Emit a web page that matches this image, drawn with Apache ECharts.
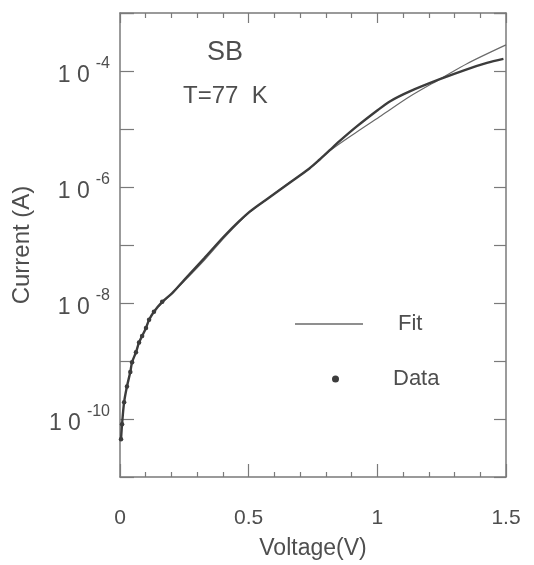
<!DOCTYPE html>
<html>
<head>
<meta charset="utf-8">
<script src="https://cdn.jsdelivr.net/npm/echarts@6/dist/echarts.min.js"></script>
<style>
  html, body { margin: 0; padding: 0; background: #fff; }
  #chart { width: 534px; height: 565px; }
</style>
</head>
<body>
<div id="chart"></div>
<script>
// measured points, voltage in V, current as log10(A)
var dataVolts = [0.004, 0.008, 0.016, 0.027, 0.040, 0.047, 0.062, 0.074, 0.086, 0.101,
  0.113, 0.132, 0.164, 0.203, 0.25, 0.327, 0.413, 0.503, 0.58, 0.658,
  0.736, 0.775, 0.814, 0.853, 0.919, 0.997, 1.05, 1.126, 1.243, 1.348, 1.426, 1.49];
var dataLogI = [-10.35, -10.09, -9.71, -9.44, -9.19, -9.02, -8.85, -8.68, -8.57, -8.43,
  -8.29, -8.15, -7.98, -7.83, -7.60, -7.23, -6.81, -6.43, -6.18, -5.93,
  -5.68, -5.53, -5.37, -5.21, -4.96, -4.69, -4.52, -4.35, -4.14, -3.97, -3.86, -3.79];

// fit curve
var fitVolts = [0.15, 0.25, 0.33, 0.41, 0.50, 0.58, 0.66, 0.74, 0.82, 0.92, 1.015, 1.126, 1.243, 1.35, 1.5];
var fitLogI = [-8.06, -7.62, -7.25, -6.85, -6.45, -6.18, -5.92, -5.67, -5.36, -5.05, -4.77, -4.44, -4.14, -3.87, -3.55];

var xTicks = [0, 0.5, 1, 1.5];
var yLabelExp = [-4, -6, -8, -10];

function toPairs(xs, logs) {
  var out = [];
  for (var i = 0; i < xs.length; i++) {
    out.push([xs[i], Math.pow(10, logs[i])]);
  }
  return out;
}

var textColor = '#4e4e4e';
var lineColor = '#7a7a7a';
var font = 'Liberation Sans, Arial, Helvetica, sans-serif';

var chart = echarts.init(document.getElementById('chart'));
chart.setOption({
  animation: false,
  backgroundColor: '#fff',
  textStyle: { fontFamily: font, color: textColor },
  grid: { left: 120, right: 28, top: 13, bottom: 88 },
  xAxis: [{
    type: 'value',
    min: 0, max: 1.5, interval: 0.5,
    name: 'Voltage(V)',
    nameLocation: 'middle',
    nameGap: 60,
    nameTextStyle: { fontSize: 23, color: textColor, fontFamily: font },
    axisLine: { onZero: false, lineStyle: { color: lineColor, width: 1.5 } },
    axisTick: { inside: true, length: 13, lineStyle: { color: lineColor, width: 1.2 } },
    minorTick: { show: true, splitNumber: 5, length: 5, lineStyle: { color: lineColor, width: 1.2 } },
    splitLine: { show: false },
    axisLabel: {
      margin: 31, fontSize: 21, color: textColor, fontFamily: font,
      formatter: function (v) {
        return xTicks.indexOf(v) >= 0 ? String(v) : '';
      }
    }
  }, {
    type: 'value',
    position: 'top',
    min: 0, max: 1.5, interval: 0.5,
    axisLine: { show: true, onZero: false, lineStyle: { color: lineColor, width: 1.5 } },
    axisTick: { show: true, inside: true, length: 10, lineStyle: { color: lineColor, width: 1.2 } },
    minorTick: { show: true, splitNumber: 5, length: 5, lineStyle: { color: lineColor, width: 1.2 } },
    splitLine: { show: false },
    axisLabel: { show: false }
  }],
  yAxis: [{
    type: 'log',
    logBase: 10,
    min: 1e-11, max: 1e-3,
    interval: 1,
    splitNumber: 8,
    name: 'Current (A)',
    nameLocation: 'middle',
    nameGap: 86,
    nameTextStyle: { fontSize: 24, color: textColor, fontFamily: font },
    axisLine: { show: true, onZero: false, lineStyle: { color: lineColor, width: 1.5 } },
    axisTick: { show: true, inside: true, length: 14, lineStyle: { color: lineColor, width: 1.2 } },
    splitLine: { show: false },
    axisLabel: {
      margin: 10,
      color: textColor,
      formatter: function (v) {
        var e = Math.round(Math.log10(v));
        if (yLabelExp.indexOf(e) < 0) return '';
        return '{b|1 0}{s|' + e + '}';
      },
      rich: {
        b: { fontSize: 23, fontFamily: font, color: textColor, padding: [9, 0, 0, 0] },
        s: { fontSize: 16, fontFamily: font, color: textColor, padding: [0, 0, 15, 6] }
      }
    }
  }, {
    type: 'log',
    logBase: 10,
    min: 1e-11, max: 1e-3,
    interval: 1,
    splitNumber: 8,
    position: 'right',
    axisLine: { show: true, onZero: false, lineStyle: { color: lineColor, width: 1.5 } },
    axisTick: { show: true, inside: true, length: 12, lineStyle: { color: lineColor, width: 1.2 } },
    splitLine: { show: false },
    axisLabel: { show: false }
  }],
  legend: [{
    data: [{ name: 'Fit', icon: 'rect' }],
    left: 295, top: 313,
    padding: 0,
    itemWidth: 68, itemHeight: 1.5,
    textStyle: { fontSize: 22, color: textColor, fontFamily: font, padding: [0, 0, 0, 30] },
    selectedMode: false
  }, {
    data: [{ name: 'Data', icon: 'circle' }],
    left: 332, top: 368,
    padding: 0,
    itemWidth: 7, itemHeight: 7,
    textStyle: { fontSize: 22, color: textColor, fontFamily: font, padding: [0, 0, 0, 49] },
    selectedMode: false
  }],
  graphic: [{
    type: 'text', left: 207, top: 39,
    style: { text: 'SB', fontSize: 27, fill: textColor, fontFamily: font }
  }, {
    type: 'text', left: 183, top: 84,
    style: { text: 'T=77  K', fontSize: 24, fill: textColor, fontFamily: font }
  }],
  series: [{
    name: 'Fit',
    type: 'line',
    data: toPairs(fitVolts, fitLogI),
    showSymbol: false,
    symbol: 'none',
    smooth: 0.3,
    lineStyle: { color: '#6a6a6a', width: 1.2 },
    itemStyle: { color: '#6a6a6a' },
    z: 2
  }, {
    name: 'Data',
    type: 'line',
    data: toPairs(dataVolts, dataLogI),
    showSymbol: true,
    symbol: 'circle',
    symbolSize: function (val) { return val[0] < 0.2 ? 4.5 : 0; },
    smooth: 0.3,
    lineStyle: { color: '#3c3c3c', width: 2.4 },
    itemStyle: { color: '#3c3c3c' },
    z: 3
  }]
});
</script>
</body>
</html>
